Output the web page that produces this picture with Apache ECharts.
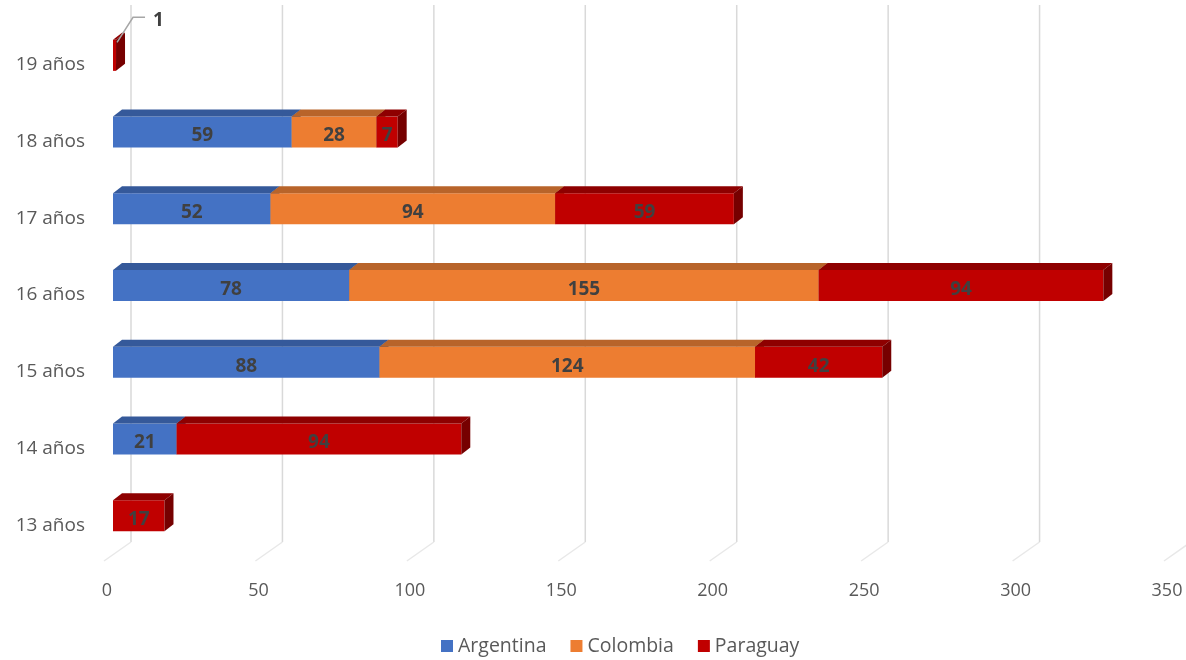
<!DOCTYPE html>
<html>
<head>
<meta charset="utf-8">
<script src="https://cdn.jsdelivr.net/npm/echarts@6/dist/echarts.min.js"></script>
<style>
  html, body { margin: 0; padding: 0; background: #ffffff; }
  #chart { width: 1186px; height: 660px; }
</style>
</head>
<body>
<div id="chart"></div>
<script>
// Ages (bottom to top) and number of people per country
const categories = ['13 años', '14 años', '15 años', '16 años', '17 años', '18 años', '19 años'];
const argentina  = [0, 21, 88, 78, 52, 59, 0];
const colombia   = [0, 0, 124, 155, 94, 28, 0];
const paraguay   = [17, 94, 42, 94, 59, 7, 1];
const xTicks     = [0, 50, 100, 150, 200, 250, 300, 350];

const FONT = "'Open Sans', 'Liberation Sans', sans-serif";
const BAR_H = 31;       // front face height
const DX = 9, DY = -7;  // depth of each 3D bar
const WALL_DX = 18;     // back wall offset of the gridlines

const seriesDefs = [
  { name: 'Argentina', values: argentina, front: '#4472C4', top: '#35599A', side: '#2C4C86' },
  { name: 'Colombia',  values: colombia,  front: '#ED7D31', top: '#B8642A', side: '#A35522' },
  { name: 'Paraguay',  values: paraguay,  front: '#C00000', top: '#8E0000', side: '#760000' }
];

// running totals so each segment starts where the previous country ended
const base = categories.map(() => 0);
const stacked = seriesDefs.map(def => {
  const rows = def.values.map((v, i) => {
    const row = [i, base[i], base[i] + v, v];
    base[i] += v;
    return row;
  });
  return Object.assign({}, def, { rows });
});

function renderGrid(params, api) {
  const cs = params.coordSys;
  const x = api.coord([api.value(0), 0])[0];
  const yTop = cs.y - 12;
  const yFloor = cs.y + cs.height - 12;
  return {
    type: 'group',
    children: [
      { type: 'line', shape: { x1: x + WALL_DX, y1: yTop, x2: x + WALL_DX, y2: yFloor },
        style: { stroke: '#D9D9D9', lineWidth: 1.5 } },
      { type: 'line', shape: { x1: x + WALL_DX, y1: yFloor, x2: x - 9, y2: yFloor + 19 },
        style: { stroke: '#E8E8E8', lineWidth: 1.5 } }
    ]
  };
}

function makeBarRenderer(def) {
  return function (params, api) {
    const cat = api.value(0), start = api.value(1), end = api.value(2), val = api.value(3);
    if (!(val > 0)) return null;
    const p0 = api.coord([start, cat]);
    const p1 = api.coord([end, cat]);
    const x0 = p0[0], x1 = p1[0], yc = p0[1];
    const top = yc - BAR_H / 2, bot = yc + BAR_H / 2;
    const children = [
      { type: 'rect', shape: { x: x0, y: top, width: x1 - x0, height: BAR_H },
        style: { fill: def.front } },
      { type: 'polygon', shape: { points: [[x0, top], [x0 + DX, top + DY], [x1 + DX, top + DY], [x1, top]] },
        style: { fill: def.top } },
      { type: 'polygon', shape: { points: [[x1, top], [x1 + DX, top + DY], [x1 + DX, bot + DY], [x1, bot]] },
        style: { fill: def.side } }
    ];
    const textStyle = { text: String(val), fill: '#404040', font: 'bold 19px ' + FONT,
                        textVerticalAlign: 'middle' };
    if (x1 - x0 >= 12) {
      children.push({ type: 'text', z2: 10,
        style: Object.assign({}, textStyle, { x: (x0 + x1) / 2, y: yc + 4, textAlign: 'center' }) });
    } else {
      // narrow segment: value placed outside with a leader line
      children.push({ type: 'polyline', z2: 10,
        shape: { points: [[x1 + 1, yc - 13], [x1 + 17, yc - 38], [x1 + 29, yc - 38]] },
        style: { stroke: '#A6A6A6', lineWidth: 1.5, fill: null } });
      children.push({ type: 'text', z2: 10,
        style: Object.assign({}, textStyle, { x: x1 + 37, y: yc - 35, textAlign: 'left' }) });
    }
    return { type: 'group', children };
  };
}

const chart = echarts.init(document.getElementById('chart'), null, { renderer: 'canvas' });

chart.setOption({
  backgroundColor: '#ffffff',
  animation: false,
  textStyle: { fontFamily: FONT },
  grid: { left: 113, top: 17, width: 1060, height: 537 },
  legend: {
    data: seriesDefs.map(d => d.name),
    icon: 'rect',
    itemWidth: 12,
    itemHeight: 12,
    itemGap: 24,
    left: 436,
    top: 631,
    textStyle: { fontSize: 19.5, color: '#595959', fontFamily: FONT }
  },
  xAxis: {
    type: 'value',
    min: 0,
    max: 350,
    interval: 50,
    axisLine: { show: false },
    axisTick: { show: false },
    splitLine: { show: false },
    axisLabel: { color: '#595959', fontSize: 18, margin: 28, padding: [0, 12, 0, 0], fontFamily: FONT }
  },
  yAxis: {
    type: 'category',
    data: categories,
    axisLine: { show: false },
    axisTick: { show: false },
    splitLine: { show: false },
    axisLabel: { color: '#595959', fontSize: 19, margin: 28, verticalAlign: 'top',
                 lineHeight: 19, fontFamily: FONT }
  },
  series: [
    {
      type: 'custom',
      name: 'grid',
      silent: true,
      z: 1,
      renderItem: renderGrid,
      encode: { x: 0, y: 1 },
      data: xTicks.map(v => [v, 0])
    }
  ].concat(stacked.map(def => ({
    type: 'custom',
    name: def.name,
    z: 2,
    itemStyle: { color: def.front },
    renderItem: makeBarRenderer(def),
    encode: { x: [1, 2], y: 0 },
    data: def.rows
  })))
});
</script>
</body>
</html>
